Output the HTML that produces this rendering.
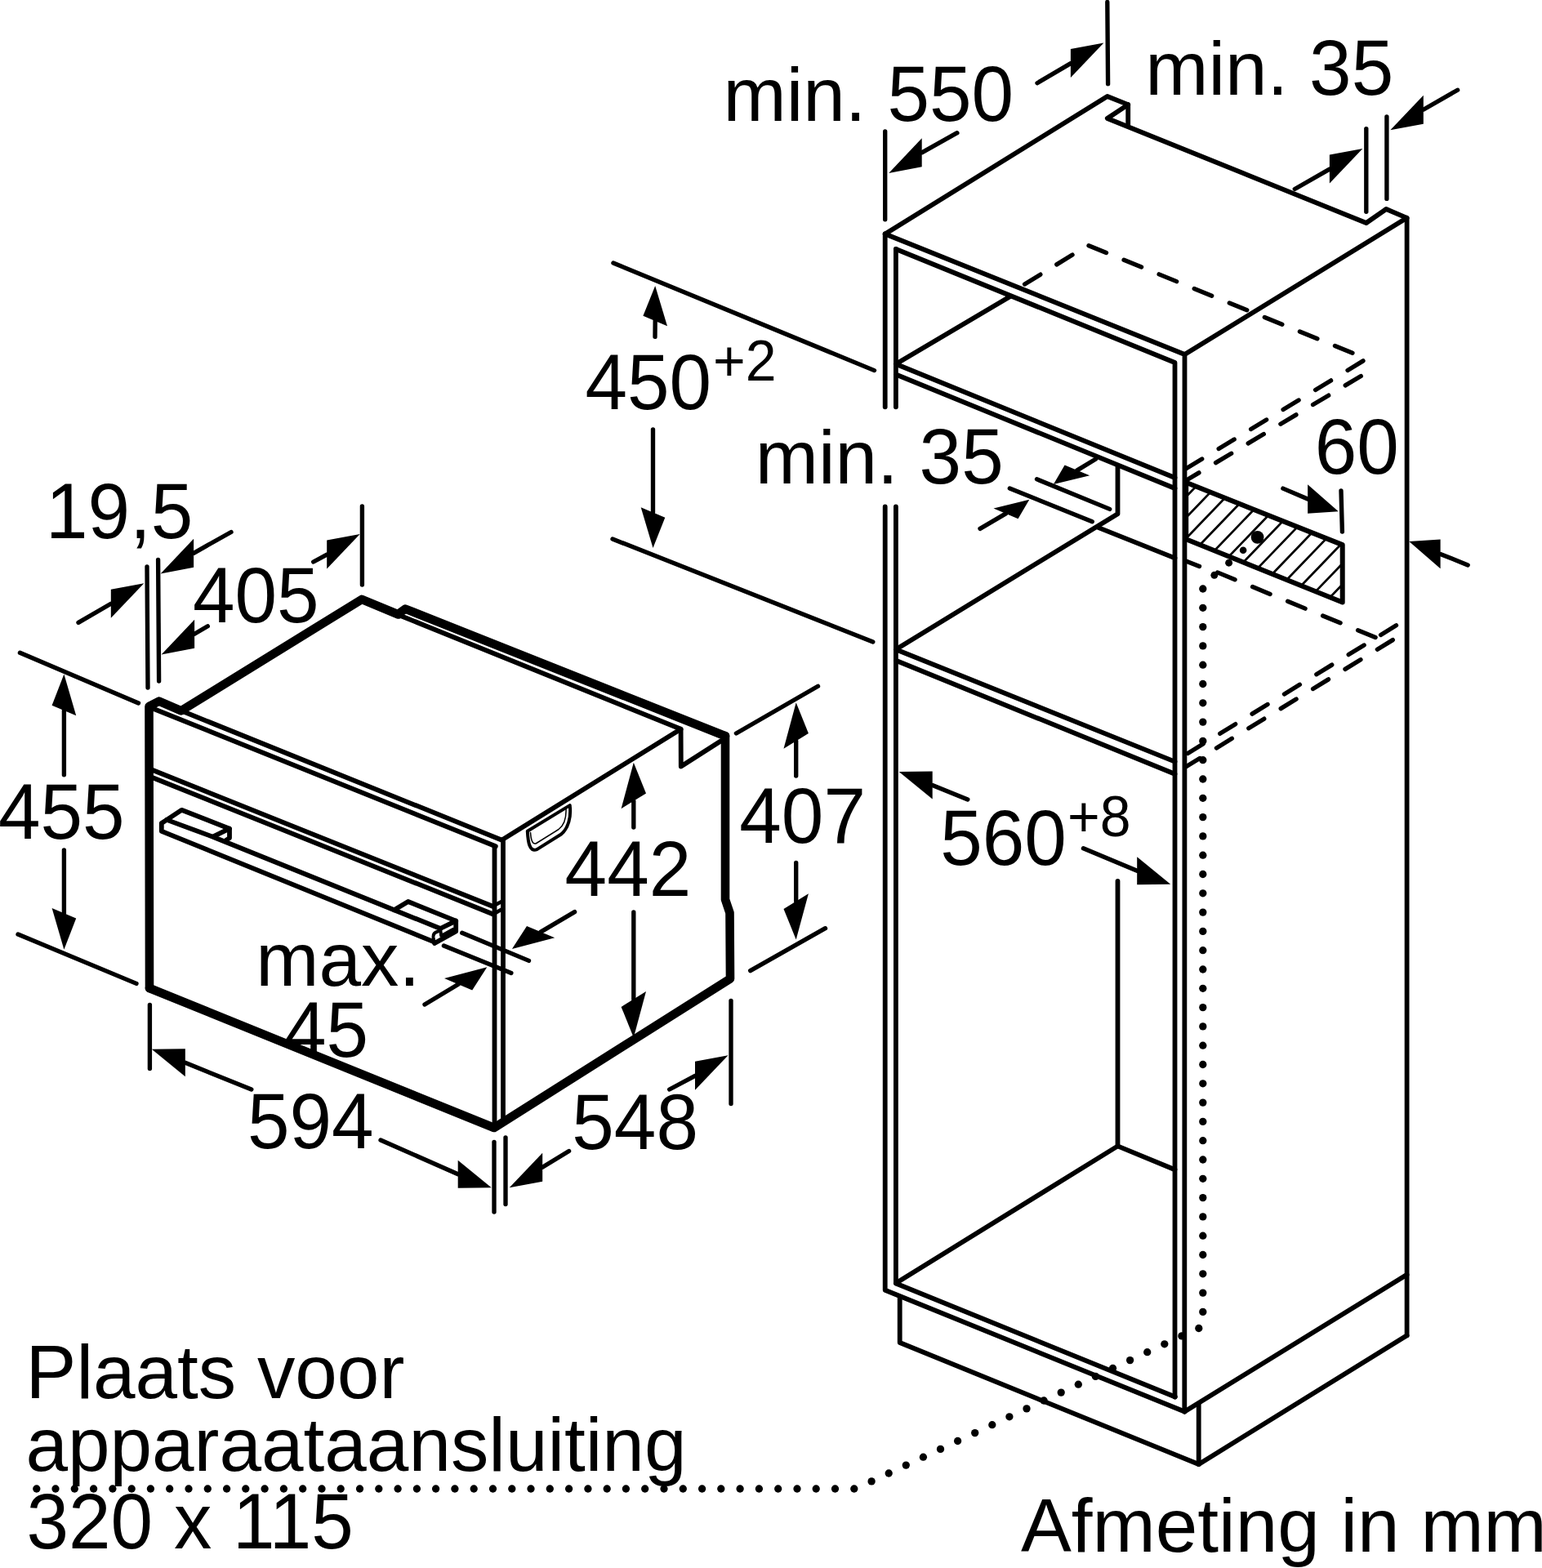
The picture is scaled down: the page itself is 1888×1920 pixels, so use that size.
<!DOCTYPE html>
<html lang="nl"><head><meta charset="utf-8"><title>Afmeting in mm</title>
<style>
html,body{margin:0;padding:0;background:#fff}
body{width:1888px;height:1920px;overflow:hidden}
svg{display:block}
svg path{fill:none;stroke:#000;stroke-linecap:round;stroke-linejoin:round}
svg .f{fill:#000;stroke:none}
svg text{font-family:"Liberation Sans",sans-serif;fill:#000}
</style></head><body>
<svg width="1888" height="1920" viewBox="0 0 1888 1920">
<g id="oven">
<path d="M183.0,1210.0 L182.5,865.0 L194.7,858.6 L221.9,870.3 L442.9,733.9 L487.8,752.5" stroke-width="10.6" />
<path d="M490.0,750.0 L496.3,745.6 L888.0,901.2" stroke-width="10.6" />
<path d="M888.0,901.0 L888.0,1101.4 L893.5,1117.7 L894.0,1198.5 L605.0,1381.0 L183.0,1210.0" stroke-width="10.6" />
<path d="M491.2,754.2 L833.6,892.8 L833.8,938.5 L882.7,907.3" stroke-width="5.8" />
<path d="M616.0,1027.6 L833.6,892.8" stroke-width="5.8" />
<path d="M221.9,870.3 L614.0,1028.5" stroke-width="5.8" />
<path d="M187.0,867.5 L606.8,1036.3" stroke-width="5.8" />
<path d="M605.5,1036.3 L605.5,1378.0" stroke-width="5.8" />
<path d="M616.0,1028.0 L616.0,1372.0" stroke-width="5.8" />
<path d="M187.0,943.0 L604.5,1110.3" stroke-width="5.8" />
<path d="M187.0,952.2 L604.5,1119.7" stroke-width="5.8" />
<path d="M605.5,1108.5 L615.0,1103.5" stroke-width="4.5" />
<path d="M605.5,1118.5 L616.0,1112.5" stroke-width="4.5" />
<path d="M204.2,1003.9 L222.3,991.8 L281.0,1014.7 L281.0,1026.1 L275.3,1029.9" stroke-width="5.8" />
<path d="M262.0,1023.8 L281.0,1014.7" stroke-width="5.8" />
<path d="M204.2,1003.9 L262.0,1025.2 L482.6,1114.2 L539.1,1137.0" stroke-width="5.8" />
<path d="M204.2,1003.9 L197.8,1008.0 L197.8,1017.8 L532.1,1153.6" stroke-width="5.8" />
<path d="M482.6,1114.2 L499.7,1104.0 L558.2,1127.6 L558.2,1140.4 L532.1,1155.0" stroke-width="5.8" />
<path d="M539.1,1137.0 L558.2,1127.6" stroke-width="5.8" />
<path d="M539.1,1137.0 L540.2,1146.0 L555.0,1137.8" stroke-width="4.0" />
<path d="M536.5,1140.5 Q530,1142 530.5,1147.5 L531.5,1153.5" stroke-width="4.0"/>
<path d="M645.8,1017.8 L697.7,986.1 C699.5,1000 696,1014 687.1,1021.5 L657.4,1040.1 C648,1044 646.5,1030 645.8,1017.8 Z" stroke-width="4"/>
<path d="M693,990.5 C693.5,1002 690,1011 684,1015.5 L656,1033 C651,1034 650,1026 649.5,1019.5" stroke-width="1.5"/>
</g>
<g id="ovendims">
<path d="M180.0,694.0 L181.0,842.0" stroke-width="5.35" />
<path d="M193.6,685.4 L194.6,834.0" stroke-width="5.35" />
<path d="M283.0,651.5 L237.1,677.3" stroke-width="5.35" />
<polygon class="f" points="196.6,702.4 237.1,659.8 237.1,694.8"/>
<path d="M96.0,762.4 L135.8,739.3" stroke-width="5.35" />
<polygon class="f" points="176.3,714.2 135.8,721.8 135.8,756.8"/>
<path d="M254.3,766.8 L238.1,776.3" stroke-width="5.35" />
<polygon class="f" points="197.6,801.4 238.1,758.8 238.1,793.8"/>
<path d="M383.7,688.0 L400.2,679.1" stroke-width="5.35" />
<polygon class="f" points="440.7,654.0 400.2,661.6 400.2,696.6"/>
<path d="M443.4,620.0 L443.4,716.0" stroke-width="5.35" />
<path d="M24.4,799.3 L169.5,861.0" stroke-width="5.35" />
<path d="M22.0,1144.0 L167.0,1204.4" stroke-width="5.35" />
<path d="M78.4,948.8 L78.4,870.0" stroke-width="5.35" />
<polygon class="f" points="78.4,825.5 63.6,863.8 93.2,876.2"/>
<path d="M78.4,1041.0 L78.4,1118.2" stroke-width="5.35" />
<polygon class="f" points="78.4,1162.7 63.6,1112.0 93.2,1124.4"/>
<path d="M901.4,898.0 L1001.5,840.3" stroke-width="5.35" />
<path d="M918.7,1188.6 L1010.5,1136.7" stroke-width="5.35" />
<path d="M974.7,950.0 L974.7,907.3" stroke-width="5.35" />
<polygon class="f" points="974.7,860.3 959.5,916.7 989.9,897.9"/>
<path d="M974.7,1056.4 L974.7,1103.6" stroke-width="5.35" />
<polygon class="f" points="974.7,1150.6 959.5,1113.0 989.9,1094.2"/>
<path d="M775.8,1013.0 L775.8,980.8" stroke-width="5.35" />
<polygon class="f" points="775.8,933.8 760.6,990.2 791.0,971.4"/>
<path d="M775.8,1117.0 L775.8,1223.5" stroke-width="5.35" />
<polygon class="f" points="775.8,1270.5 760.6,1232.9 791.0,1214.1"/>
<path d="M565.7,1142.2 L647.5,1176.4" stroke-width="5.35" />
<path d="M543.4,1158.0 L625.9,1191.5" stroke-width="5.35" />
<path d="M703.6,1116.6 L662.1,1141.1" stroke-width="5.35" />
<polygon class="f" points="626.9,1162.0 645.0,1133.9 679.2,1148.3"/>
<path d="M520.0,1230.0 L561.1,1205.2" stroke-width="5.35" />
<polygon class="f" points="596.3,1184.3 544.0,1198.0 578.2,1212.4"/>
<path d="M183.4,1230.5 L183.4,1308.5" stroke-width="5.35" />
<path d="M307.8,1334.0 L226.8,1301.3" stroke-width="5.35" />
<polygon class="f" points="185.8,1284.8 226.8,1284.3 226.8,1318.3"/>
<path d="M466.0,1396.0 L560.7,1437.8" stroke-width="5.35" />
<polygon class="f" points="601.7,1454.3 560.7,1420.8 560.7,1454.8"/>
<path d="M605.0,1398.3 L605.0,1484.0" stroke-width="5.35" />
<path d="M619.0,1393.0 L619.0,1474.6" stroke-width="5.35" />
<path d="M696.6,1409.5 L664.2,1429.2" stroke-width="5.35" />
<polygon class="f" points="623.7,1454.3 664.2,1411.7 664.2,1446.7"/>
<path d="M819.7,1334.0 L851.0,1317.3" stroke-width="5.35" />
<polygon class="f" points="891.5,1292.2 851.0,1299.8 851.0,1334.8"/>
<path d="M895.0,1225.4 L895.0,1351.5" stroke-width="5.35" />
<text transform="translate(56.0,659.3) scale(1,1.035)" font-size="92.7">19,5</text>
<text transform="translate(236.0,761.7) scale(1,1.035)" font-size="92.7">405</text>
<text transform="translate(-2.0,1027.1) scale(1,1.035)" font-size="92.7">455</text>
<text transform="translate(905.3,1031.7) scale(1,1.035)" font-size="92.7">407</text>
<text transform="translate(691.6,1097.0) scale(1,1.035)" font-size="92.7">442</text>
<text transform="translate(313.3,1206.8)" font-size="92.7">max.</text>
<text transform="translate(348.0,1294.4) scale(1,1.035)" font-size="92.7">45</text>
<text transform="translate(302.9,1406.3) scale(1,1.035)" font-size="92.7">594</text>
<text transform="translate(700.3,1407.0) scale(1,1.035)" font-size="92.7">548</text>
</g>
<g id="cabinet">
<path d="M1083.7,286.5 L1083.7,498.3" stroke-width="5.8" />
<path d="M1096.9,305.0 L1096.9,498.3" stroke-width="5.8" />
<path d="M1083.7,620.5 L1083.7,1579.7 L1450.4,1728.5" stroke-width="5.8" />
<path d="M1096.9,620.5 L1096.9,1571.5 L1438.9,1710.5" stroke-width="5.8" />
<path d="M1083.7,286.5 L1355.8,118.0 L1381.2,128.1 L1381.2,152.5" stroke-width="5.8" />
<path d="M1381.2,128.1 L1355.8,145.0 L1672.8,273.0 L1697.2,256.0 L1722.6,266.8 L1722.6,1635.3" stroke-width="5.8" />
<path d="M1450.5,434.0 L1722.6,266.8" stroke-width="5.8" />
<path d="M1083.7,286.5 L1450.5,434.0 L1450.3,1728.5" stroke-width="5.8" />
<path d="M1096.9,305.0 L1438.5,444.0 L1438.5,1710.5" stroke-width="5.8" />
<path d="M1096.9,445.8 L1438.5,585.0" stroke-width="5.8" />
<path d="M1096.9,458.5 L1438.5,598.0" stroke-width="5.8" />
<path d="M1096.9,445.8 L1237.3,362.7" stroke-width="5.8" />
<path d="M1368.5,571.5 L1368.5,629.2 L1096.9,795.3" stroke-width="5.8" />
<path d="M1345.1,646.1 L1438.5,683.4" stroke-width="5.8" />
<path d="M1096.9,795.3 L1438.5,932.6" stroke-width="5.8" />
<path d="M1096.9,808.8 L1438.5,947.8" stroke-width="5.8" />
<path d="M1368.5,1079.0 L1368.5,1403.4" stroke-width="5.8" />
<path d="M1096.9,1571.2 L1368.5,1403.4 L1438.5,1432.2" stroke-width="5.8" />
<path d="M1450.4,1728.5 L1722.6,1560.7" stroke-width="5.8" />
<path d="M1101.7,1588.0 L1101.7,1644.0 L1467.7,1793.0 L1722.6,1635.3" stroke-width="5.8" />
<path d="M1467.7,1719.0 L1467.7,1793.0" stroke-width="5.8" />
<clipPath id="hc"><polygon points="1452.2,590.8 1643.7,667.1 1643.7,737.5 1452.2,660.3"/></clipPath>
<g clip-path="url(#hc)">
<path d="M1352.9,634.8 L1472.9,510.0" stroke-width="2.7" />
<path d="M1370.7,641.9 L1490.7,517.1" stroke-width="2.7" />
<path d="M1388.4,649.0 L1508.4,524.2" stroke-width="2.7" />
<path d="M1406.1,656.2 L1526.1,531.4" stroke-width="2.7" />
<path d="M1423.8,663.3 L1543.8,538.5" stroke-width="2.7" />
<path d="M1441.5,670.4 L1561.5,545.6" stroke-width="2.7" />
<path d="M1459.2,677.5 L1579.2,552.7" stroke-width="2.7" />
<path d="M1476.9,684.7 L1596.9,559.9" stroke-width="2.7" />
<path d="M1494.6,691.8 L1614.6,567.0" stroke-width="2.7" />
<path d="M1512.3,698.9 L1632.3,574.1" stroke-width="2.7" />
<path d="M1530.0,706.1 L1650.0,581.3" stroke-width="2.7" />
<path d="M1547.8,713.2 L1667.8,588.4" stroke-width="2.7" />
<path d="M1565.5,720.3 L1685.5,595.5" stroke-width="2.7" />
<path d="M1583.2,727.5 L1703.2,602.7" stroke-width="2.7" />
<path d="M1600.9,734.6 L1720.9,609.8" stroke-width="2.7" />
<path d="M1618.6,741.7 L1738.6,616.9" stroke-width="2.7" />
<path d="M1636.3,748.9 L1756.3,624.1" stroke-width="2.7" />
<path d="M1654.0,756.0 L1774.0,631.2" stroke-width="2.7" />
</g>
<path d="M1452.2,590.8 L1643.7,667.1 L1643.7,737.5 L1452.2,660.3 L1452.2,590.8" stroke-width="6.0" />
</g>
<g id="dashed">
<path d="M1254.6,348.0 L1317.0,309.6" stroke-width="5.35" stroke-dasharray="22.6 23.4" stroke-dashoffset="0"/>
<path d="M1333.0,300.8 L1658.2,433.2" stroke-width="5.35" stroke-dasharray="23.2 23.3" stroke-dashoffset="0"/>
<path d="M1669.0,441.9 L1451.0,574.6" stroke-width="5.35" stroke-dasharray="22.2 24" stroke-dashoffset="0"/>
<path d="M1666.3,460.5 L1451.0,589.0" stroke-width="5.35" stroke-dasharray="22.2 24" stroke-dashoffset="0"/>
<path d="M1490.6,700.9 L1685.3,781.0" stroke-width="5.35" stroke-dasharray="23.2 23.3" stroke-dashoffset="0"/>
<path d="M1452.0,687.0 L1468.5,693.6" stroke-width="5.35" stroke-dasharray="100 1" stroke-dashoffset="0"/>
<path d="M1709.5,765.8 L1451.0,924.5" stroke-width="5.35" stroke-dasharray="22.2 24" stroke-dashoffset="0"/>
<path d="M1705.3,783.6 L1451.0,939.5" stroke-width="5.35" stroke-dasharray="22.2 24" stroke-dashoffset="0"/>
</g>
<g id="dots">
<circle class="f" cx="1539.6" cy="657.8" r="7.9"/>
<circle class="f" cx="1522.1" cy="673.8" r="4.3"/>
<circle class="f" cx="1504.6" cy="689.2" r="4.45"/>
<circle class="f" cx="1486.8" cy="704.3" r="4.45"/>
<circle class="f" cx="1472.8" cy="721.0" r="4.65"/>
<circle class="f" cx="1472.8" cy="744.3" r="4.65"/>
<circle class="f" cx="1472.8" cy="767.6" r="4.65"/>
<circle class="f" cx="1472.8" cy="790.9" r="4.65"/>
<circle class="f" cx="1472.8" cy="814.2" r="4.65"/>
<circle class="f" cx="1472.8" cy="837.5" r="4.65"/>
<circle class="f" cx="1472.8" cy="860.8" r="4.65"/>
<circle class="f" cx="1472.8" cy="884.1" r="4.65"/>
<circle class="f" cx="1472.8" cy="907.4" r="4.65"/>
<circle class="f" cx="1472.8" cy="930.7" r="4.65"/>
<circle class="f" cx="1472.8" cy="954.0" r="4.65"/>
<circle class="f" cx="1472.8" cy="977.3" r="4.65"/>
<circle class="f" cx="1472.8" cy="1000.6" r="4.65"/>
<circle class="f" cx="1472.8" cy="1023.9" r="4.65"/>
<circle class="f" cx="1472.8" cy="1047.2" r="4.65"/>
<circle class="f" cx="1472.8" cy="1070.5" r="4.65"/>
<circle class="f" cx="1472.8" cy="1093.8" r="4.65"/>
<circle class="f" cx="1472.8" cy="1117.1" r="4.65"/>
<circle class="f" cx="1472.8" cy="1140.4" r="4.65"/>
<circle class="f" cx="1472.8" cy="1163.7" r="4.65"/>
<circle class="f" cx="1472.8" cy="1187.0" r="4.65"/>
<circle class="f" cx="1472.8" cy="1210.3" r="4.65"/>
<circle class="f" cx="1472.8" cy="1233.6" r="4.65"/>
<circle class="f" cx="1472.8" cy="1256.9" r="4.65"/>
<circle class="f" cx="1472.8" cy="1280.2" r="4.65"/>
<circle class="f" cx="1472.8" cy="1303.5" r="4.65"/>
<circle class="f" cx="1472.8" cy="1326.8" r="4.65"/>
<circle class="f" cx="1472.8" cy="1350.1" r="4.65"/>
<circle class="f" cx="1472.8" cy="1373.4" r="4.65"/>
<circle class="f" cx="1472.8" cy="1396.7" r="4.65"/>
<circle class="f" cx="1472.8" cy="1420.0" r="4.65"/>
<circle class="f" cx="1472.8" cy="1443.3" r="4.65"/>
<circle class="f" cx="1472.8" cy="1466.6" r="4.65"/>
<circle class="f" cx="1472.8" cy="1489.9" r="4.65"/>
<circle class="f" cx="1472.8" cy="1513.2" r="4.65"/>
<circle class="f" cx="1472.8" cy="1536.5" r="4.65"/>
<circle class="f" cx="1472.8" cy="1559.8" r="4.65"/>
<circle class="f" cx="1472.8" cy="1583.1" r="4.65"/>
<circle class="f" cx="1472.8" cy="1606.4" r="4.65"/>
<circle class="f" cx="1467.8" cy="1626.5" r="4.65"/>
<circle class="f" cx="1446.9" cy="1635.9" r="4.65"/>
<circle class="f" cx="1425.8" cy="1645.8" r="4.65"/>
<circle class="f" cx="1404.7" cy="1655.7" r="4.65"/>
<circle class="f" cx="1383.6" cy="1665.6" r="4.65"/>
<circle class="f" cx="1362.5" cy="1675.5" r="4.65"/>
<circle class="f" cx="1341.4" cy="1685.4" r="4.65"/>
<circle class="f" cx="1320.3" cy="1695.2" r="4.65"/>
<circle class="f" cx="1299.2" cy="1705.1" r="4.65"/>
<circle class="f" cx="1278.1" cy="1715.0" r="4.65"/>
<circle class="f" cx="1257.0" cy="1724.9" r="4.65"/>
<circle class="f" cx="1235.9" cy="1734.8" r="4.65"/>
<circle class="f" cx="1214.8" cy="1744.7" r="4.65"/>
<circle class="f" cx="1193.7" cy="1754.6" r="4.65"/>
<circle class="f" cx="1172.6" cy="1764.5" r="4.65"/>
<circle class="f" cx="1151.5" cy="1774.4" r="4.65"/>
<circle class="f" cx="1130.4" cy="1784.2" r="4.65"/>
<circle class="f" cx="1109.3" cy="1794.1" r="4.65"/>
<circle class="f" cx="1088.2" cy="1804.0" r="4.65"/>
<circle class="f" cx="1067.1" cy="1813.9" r="4.65"/>
<circle class="f" cx="1045.8" cy="1823.0" r="4.65"/>
<circle class="f" cx="1022.5" cy="1823.0" r="4.65"/>
<circle class="f" cx="999.2" cy="1823.0" r="4.65"/>
<circle class="f" cx="976.0" cy="1823.0" r="4.65"/>
<circle class="f" cx="952.7" cy="1823.0" r="4.65"/>
<circle class="f" cx="929.4" cy="1823.0" r="4.65"/>
<circle class="f" cx="906.1" cy="1823.0" r="4.65"/>
<circle class="f" cx="882.8" cy="1823.0" r="4.65"/>
<circle class="f" cx="859.6" cy="1823.0" r="4.65"/>
<circle class="f" cx="836.3" cy="1823.0" r="4.65"/>
<circle class="f" cx="813.0" cy="1823.0" r="4.65"/>
<circle class="f" cx="789.7" cy="1823.0" r="4.65"/>
<circle class="f" cx="766.4" cy="1823.0" r="4.65"/>
<circle class="f" cx="743.2" cy="1823.0" r="4.65"/>
<circle class="f" cx="719.9" cy="1823.0" r="4.65"/>
<circle class="f" cx="696.6" cy="1823.0" r="4.65"/>
<circle class="f" cx="673.3" cy="1823.0" r="4.65"/>
<circle class="f" cx="650.0" cy="1823.0" r="4.65"/>
<circle class="f" cx="626.8" cy="1823.0" r="4.65"/>
<circle class="f" cx="603.5" cy="1823.0" r="4.65"/>
<circle class="f" cx="580.2" cy="1823.0" r="4.65"/>
<circle class="f" cx="556.9" cy="1823.0" r="4.65"/>
<circle class="f" cx="533.6" cy="1823.0" r="4.65"/>
<circle class="f" cx="510.4" cy="1823.0" r="4.65"/>
<circle class="f" cx="487.1" cy="1823.0" r="4.65"/>
<circle class="f" cx="463.8" cy="1823.0" r="4.65"/>
<circle class="f" cx="440.5" cy="1823.0" r="4.65"/>
<circle class="f" cx="417.2" cy="1823.0" r="4.65"/>
<circle class="f" cx="394.0" cy="1823.0" r="4.65"/>
<circle class="f" cx="370.7" cy="1823.0" r="4.65"/>
<circle class="f" cx="347.4" cy="1823.0" r="4.65"/>
<circle class="f" cx="324.1" cy="1823.0" r="4.65"/>
<circle class="f" cx="300.8" cy="1823.0" r="4.65"/>
<circle class="f" cx="277.6" cy="1823.0" r="4.65"/>
<circle class="f" cx="254.3" cy="1823.0" r="4.65"/>
<circle class="f" cx="231.0" cy="1823.0" r="4.65"/>
<circle class="f" cx="207.7" cy="1823.0" r="4.65"/>
<circle class="f" cx="184.4" cy="1823.0" r="4.65"/>
<circle class="f" cx="161.2" cy="1823.0" r="4.65"/>
<circle class="f" cx="137.9" cy="1823.0" r="4.65"/>
<circle class="f" cx="114.6" cy="1823.0" r="4.65"/>
<circle class="f" cx="91.3" cy="1823.0" r="4.65"/>
<circle class="f" cx="68.0" cy="1823.0" r="4.65"/>
<circle class="f" cx="44.8" cy="1823.0" r="4.65"/>
</g>
<g id="cabdims">
<path d="M1083.7,161.0 L1083.7,268.8" stroke-width="5.35" />
<path d="M1171.9,162.7 L1128.7,186.8" stroke-width="5.35" />
<polygon class="f" points="1088.2,211.9 1128.7,169.3 1128.7,204.3"/>
<path d="M1270.0,101.7 L1310.9,77.6" stroke-width="5.35" />
<polygon class="f" points="1351.4,52.5 1310.9,60.1 1310.9,95.1"/>
<path d="M1355.8,2.5 L1356.6,102.7" stroke-width="5.35" />
<path d="M1672.8,157.6 L1672.8,259.3" stroke-width="5.35" />
<path d="M1697.9,143.0 L1697.9,243.4" stroke-width="5.35" />
<path d="M1585.3,231.5 L1627.9,207.1" stroke-width="5.35" />
<polygon class="f" points="1668.4,182.0 1627.9,189.6 1627.9,224.6"/>
<path d="M1784.6,110.2 L1742.8,134.2" stroke-width="5.35" />
<polygon class="f" points="1702.3,159.3 1742.8,116.7 1742.8,151.7"/>
<path d="M750.9,322.0 L1070.5,453.6" stroke-width="5.35" />
<path d="M750.0,660.0 L1068.8,786.0" stroke-width="5.35" />
<path d="M802.0,412.4 L802.2,393.0" stroke-width="5.35" />
<polygon class="f" points="802.2,350.0 787.4,386.8 817.0,399.2"/>
<path d="M799.5,525.8 L799.5,627.5" stroke-width="5.35" />
<polygon class="f" points="799.5,671.0 784.7,621.3 814.3,633.7"/>
<path d="M1269.5,586.8 L1358.7,623.4" stroke-width="5.35" />
<path d="M1236.3,598.0 L1337.3,638.7" stroke-width="5.35" />
<path d="M1341.3,562.3 L1318.9,575.9" stroke-width="5.35" />
<polygon class="f" points="1289.9,593.1 1303.6,569.4 1334.2,582.3"/>
<path d="M1200.0,647.4 L1231.5,628.9" stroke-width="5.35" />
<polygon class="f" points="1260.3,611.8 1216.5,622.6 1246.5,635.2"/>
<path d="M1570.9,598.1 L1601.1,611.0" stroke-width="5.35" />
<polygon class="f" points="1638.7,626.2 1601.1,593.2 1601.1,628.8"/>
<path d="M1642.0,601.0 L1643.4,651.0" stroke-width="5.35" />
<path d="M1797.2,691.9 L1763.6,678.4" stroke-width="5.35" />
<polygon class="f" points="1725.3,663.0 1763.6,660.6 1763.6,696.2"/>
<path d="M1184.8,979.0 L1141.7,961.5" stroke-width="5.35" />
<polygon class="f" points="1100.7,945.0 1141.7,944.5 1141.7,978.5"/>
<path d="M1326.4,1038.7 L1392.2,1066.2" stroke-width="5.35" />
<polygon class="f" points="1433.2,1082.7 1392.2,1049.2 1392.2,1083.2"/>
<g><text transform="translate(885.5,148.1)" font-size="92.7">min.</text> <text transform="translate(1086.4,148.1) scale(1,1.035)" font-size="92.7">550</text></g>
<g><text transform="translate(1402.2,116.1)" font-size="92.7">min.</text> <text transform="translate(1603.1,116.1) scale(1,1.035)" font-size="92.7">35</text></g>
<g>
<text transform="translate(716.5,500.7) scale(1,1.035)" font-size="92.7">450</text>
<text transform="translate(873.0,465.6) scale(1,1.035)" font-size="68">+2</text>
</g>
<g><text transform="translate(924.7,591.6)" font-size="92.7">min.</text> <text transform="translate(1125.6,591.6) scale(1,1.035)" font-size="92.7">35</text></g>
<text transform="translate(1609.7,580.4) scale(1,1.035)" font-size="92.7">60</text>
<g>
<text transform="translate(1151.2,1058.7) scale(1,1.035)" font-size="92.7">560</text>
<text transform="translate(1307.1,1023.7) scale(1,1.035)" font-size="68">+8</text>
</g>
</g>
<g id="labels">
<text transform="translate(31.6,1711.5)" font-size="92.7">Plaats voor</text>
<text transform="translate(31.4,1801.0)" font-size="92.7">apparaataansluiting</text>
<text transform="translate(32.5,1896.4) scale(1,1.035)" font-size="92.7">320 x 115</text>
<text transform="translate(1250.0,1900.2)" font-size="92.7">Afmeting in mm</text>
</g>
</svg>
</body></html>
